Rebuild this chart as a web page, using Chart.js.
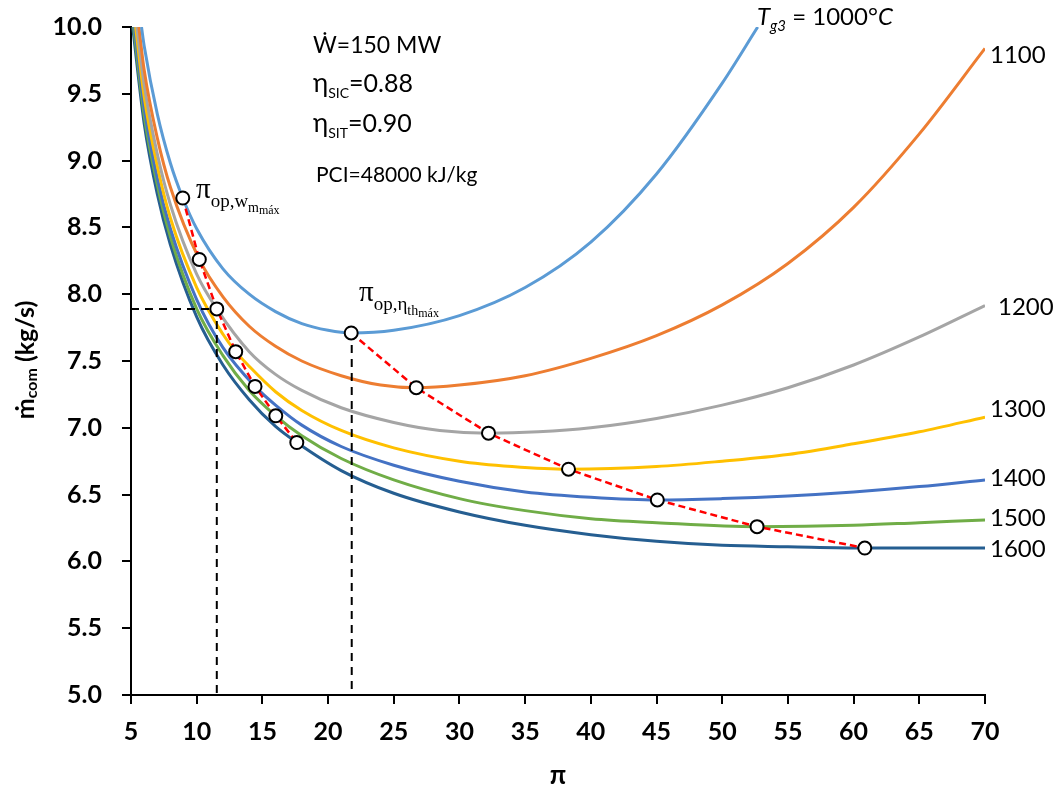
<!DOCTYPE html>
<html lang="es">
<head>
<meta charset="utf-8">
<title>Flujo de combustible vs relación de presiones</title>
<script src="https://cdn.jsdelivr.net/npm/chart.js@4.4.0/dist/chart.umd.min.js"></script>
<style>
  body { margin: 0; background: #fff; }
  canvas { display: block; }
</style>
</head>
<body>
<canvas id="myChart" width="1058" height="790"></canvas>
<script>
  // turbine inlet temperatures, one curve each
  const temps = [1000, 1100, 1200, 1300, 1400, 1500, 1600];
  const colors = ["#5B9BD5", "#ED7D31", "#A5A5A5", "#FFC000", "#4472C4", "#70AD47", "#255E91"];

  // pressure ratio (pi) and fuel mass flow (kg/s)
  const pi1000 = [5.8, 6, 7, 8, 8.94, 10, 12, 14, 16, 18, 20, 21.76, 25, 30, 35, 40, 45, 50, 52.7];
  const m1000  = [10.0, 9.86, 9.35, 8.98, 8.72, 8.49, 8.19, 8.00, 7.87, 7.78, 7.73, 7.71, 7.73, 7.84, 8.05, 8.39, 8.90, 9.58, 10.0];
  const pi1100 = [5.6, 6, 7, 8, 10.2, 12, 14, 16, 18, 21, 24, 26.71, 30, 35, 40, 45, 50, 55, 60, 65, 70];
  const m1100  = [10.0, 9.68, 9.17, 8.80, 8.26, 7.98, 7.76, 7.61, 7.50, 7.39, 7.32, 7.30, 7.32, 7.39, 7.52, 7.69, 7.92, 8.23, 8.65, 9.20, 9.84];
  const pi1200 = [5.45, 6, 7, 8, 10, 11.53, 14, 16, 18, 21, 25, 28.5, 32.21, 36, 40, 45, 50, 55, 60, 65, 70];
  const m1200  = [10.0, 9.57, 9.05, 8.67, 8.15, 7.89, 7.57, 7.40, 7.28, 7.15, 7.04, 6.98, 6.96, 6.97, 7.00, 7.07, 7.17, 7.30, 7.47, 7.68, 7.915];
  const pi1300 = [5.35, 6, 7, 8, 10, 12, 12.97, 14, 16, 18, 21, 25, 30, 34, 38.3, 45, 50, 55, 60, 65, 70];
  const m1300  = [10.0, 9.48, 8.96, 8.57, 8.05, 7.70, 7.57, 7.46, 7.27, 7.13, 6.98, 6.85, 6.75, 6.71, 6.69, 6.71, 6.75, 6.80, 6.88, 6.97, 7.08];
  const pi1400 = [5.27, 6, 7, 8, 10, 12, 14.44, 16, 18, 21, 25, 30, 35, 40, 45.06, 50, 55, 60, 65, 70];
  const m1400  = [10.0, 9.40, 8.87, 8.49, 7.96, 7.60, 7.31, 7.17, 7.02, 6.86, 6.72, 6.60, 6.52, 6.48, 6.46, 6.47, 6.49, 6.52, 6.56, 6.61];
  const pi1500 = [5.2, 6, 7, 8, 10, 12, 14, 16.02, 18, 21, 25, 30, 35, 40, 45, 52.65, 60, 65, 70];
  const m1500  = [10.0, 9.34, 8.82, 8.43, 7.89, 7.54, 7.28, 7.09, 6.94, 6.77, 6.61, 6.47, 6.38, 6.32, 6.29, 6.26, 6.27, 6.29, 6.31];
  const pi1600 = [5.13, 6, 7, 8, 10, 12, 14, 16, 17.62, 21, 25, 30, 35, 40, 45, 50, 55, 60.85, 65, 70];
  const m1600  = [10.0, 9.28, 8.75, 8.37, 7.83, 7.47, 7.21, 7.01, 6.89, 6.68, 6.51, 6.37, 6.27, 6.20, 6.15, 6.12, 6.11, 6.10, 6.10, 6.10];

  // operating points: max specific work (left) and max thermal efficiency (right)
  const piWmax   = [8.94, 10.2, 11.53, 12.97, 14.44, 16.02, 17.62];
  const mWmax    = [8.72, 8.26, 7.89, 7.57, 7.31, 7.09, 6.89];
  const piEtaMax = [21.76, 26.71, 32.21, 38.3, 45.06, 52.65, 60.85];
  const mEtaMax  = [7.71, 7.30, 6.96, 6.69, 6.46, 6.26, 6.10];

  // black guide lines
  const guide1X = [5, 11.53, 11.53];
  const guide1Y = [7.89, 7.89, 5];
  const guide2X = [21.8, 21.8];
  const guide2Y = [7.62, 5];

  const curvePi = [pi1000, pi1100, pi1200, pi1300, pi1400, pi1500, pi1600];
  const curveM = [m1000, m1100, m1200, m1300, m1400, m1500, m1600];

  function pts(xs, ys) {
    return xs.map(function (v, i) { return { x: v, y: ys[i] }; });
  }

  var datasets = [];
  // points and red dashed lines on top
  [[piWmax, mWmax], [piEtaMax, mEtaMax]].forEach(function (p) {
    datasets.push({
      data: pts(p[0], p[1]),
      borderColor: "#FF0000",
      borderWidth: 2.5,
      borderDash: [7, 4],
      pointRadius: 6.5,
      pointBorderWidth: 2,
      pointBackgroundColor: "#fff",
      pointBorderColor: "#000",
      tension: 0,
      order: 0,
    });
  });
  [[guide1X, guide1Y], [guide2X, guide2Y]].forEach(function (g) {
    datasets.push({
      data: pts(g[0], g[1]),
      borderColor: "#000",
      borderWidth: 2,
      borderDash: [8, 6],
      pointRadius: 0,
      tension: 0,
      order: 1,
    });
  });
  temps.forEach(function (t, i) {
    datasets.push({
      label: String(t),
      data: pts(curvePi[i], curveM[i]),
      borderColor: colors[i],
      borderWidth: 3,
      pointRadius: 0,
      cubicInterpolationMode: "monotone",
      order: 2 + i,
    });
  });

  function runs(ctx, x, y, parts) {
    parts.forEach(function (p) {
      ctx.font = p[1];
      ctx.fillText(p[0], x, y + (p[2] || 0));
      x += ctx.measureText(p[0]).width;
    });
    return x;
  }
  function runsWidth(ctx, parts) {
    var w = 0;
    parts.forEach(function (p) { ctx.font = p[1]; w += ctx.measureText(p[0]).width; });
    return w;
  }

  const notes = {
    id: "notes",
    afterDraw: function (chart) {
      const c = chart.ctx;
      c.save();
      c.fillStyle = "#000";
      c.textAlign = "left";
      c.textBaseline = "alphabetic";

      // parameters box
      runs(c, 313, 53, [["Ẇ=150 MW", "23px Lato"]]);
      runs(c, 313, 92, [["η", "26px Lato"], ["SIC", "14px Lato", 6], ["=0.88", "25px Lato"]]);
      runs(c, 313, 132, [["η", "26px Lato"], ["SIT", "14px Lato", 6], ["=0.90", "25px Lato"]]);
      runs(c, 316, 182, [["PCI=48000 kJ/kg", "21px Lato"]]);

      // curve labels
      runs(c, 757, 25, [["T", "italic 24px Lato"], ["g3", "italic 15px Lato", 6], [" = ", "24px Lato"], ["1000°", "24px Lato"], ["C", "italic 24px Lato"]]);
      c.font = "24px Lato";
      c.fillText("1100", 990, 63);
      c.fillText("1200", 998, 315);
      c.fillText("1300", 990, 417);
      c.fillText("1400", 990, 486);
      c.fillText("1500", 990, 526);
      c.fillText("1600", 990, 557);

      // operating point labels
      runs(c, 196, 198, [["π", "29px 'Liberation Serif'"], ["op,w", "19px 'Liberation Serif'", 9]]);
      runs(c, 248, 212, [["m", "14px 'Liberation Serif'"], ["máx", "12px 'Liberation Serif'", 2]]);
      var xe = runs(c, 359, 301, [["π", "29px 'Liberation Serif'"], ["op,η", "19px 'Liberation Serif'", 9]]);
      runs(c, xe, 315, [["th", "14px 'Liberation Serif'"], ["máx", "12px 'Liberation Serif'", 2]]);

      // axis titles
      c.textAlign = "center";
      c.font = "bold 26px Lato";
      c.fillText("π", 558, 784);
      c.textAlign = "left";
      var yt = [["ṁ", "bold 25px Lato"], ["com", "bold 16px Lato", 3], [" (kg/s)", "bold 25px Lato"]];
      c.translate(34, 360);
      c.rotate(-Math.PI / 2);
      runs(c, -runsWidth(c, yt) / 2, 0, yt);
      c.restore();
    },
  };

  const tickFont = { family: "Lato", size: 25, weight: "bold" };
  var ctx = document.getElementById("myChart").getContext("2d");
  var chart = new Chart(ctx, {
    type: "line",
    data: { datasets: datasets },
    options: {
      responsive: false,
      animation: false,
      layout: { padding: { left: 0, top: 27, right: 73, bottom: 0 } },
      plugins: { legend: { display: false }, tooltip: { enabled: false } },
      scales: {
        x: {
          type: "linear",
          min: 5,
          max: 70,
          ticks: { stepSize: 5, color: "#000", font: tickFont, padding: 13 },
          grid: { drawOnChartArea: false, tickLength: 9, color: "#000", lineWidth: 2 },
          border: { color: "#000", width: 2 },
          afterFit: function (s) { s.height = 95; },
        },
        y: {
          min: 5,
          max: 10,
          ticks: {
            stepSize: 0.5,
            color: "#000",
            font: tickFont,
            padding: 20,
            callback: function (v) { return v.toFixed(1); },
          },
          grid: { drawOnChartArea: false, tickLength: 9, color: "#000", lineWidth: 2 },
          border: { color: "#000", width: 2 },
          afterFit: function (s) {
            s.width = 131;
            s.paddingTop = 0;
            s.paddingBottom = 0;
          },
        },
      },
    },
    plugins: [notes],
  });
</script>
</body>
</html>
